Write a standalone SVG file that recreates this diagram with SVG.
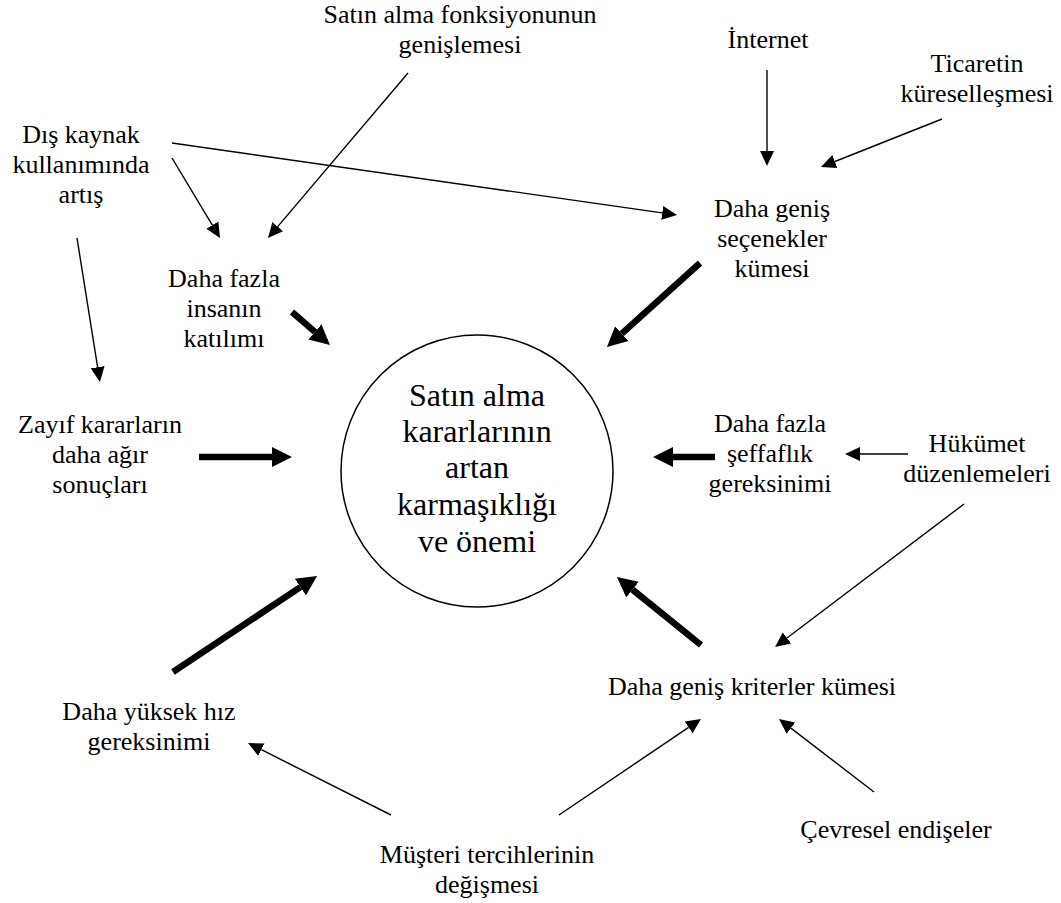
<svg xmlns="http://www.w3.org/2000/svg" width="1061" height="903" viewBox="0 0 1061 903" font-family="Liberation Serif, Tinos, Times New Roman, DejaVu Serif, serif">
<style>
text{font-family:'Liberation Serif',Tinos,'Times New Roman','DejaVu Serif',serif;fill:#000;text-anchor:middle}
.lbl{font-size:26px}
.big{font-size:32px}
.thin{stroke:#000;stroke-width:1.4;fill:none}
.thick{stroke:#000;stroke-width:6.5;fill:none}
</style>
<defs>
<marker id="ah" markerUnits="userSpaceOnUse" markerWidth="16" markerHeight="16" refX="0" refY="7" orient="auto" viewBox="0 0 16 14">
<path d="M0,0 L15,7 L0,14 z" fill="#000"/>
</marker>
<marker id="ahb" markerUnits="userSpaceOnUse" markerWidth="21" markerHeight="21" refX="0" refY="10" orient="auto" viewBox="0 0 21 20">
<path d="M0,0 L20,10 L0,20 z" fill="#000"/>
</marker>
</defs>
<rect width="1061" height="903" fill="#fff"/>
<g id="connectors">
<line class="thin" x1="172" y1="143" x2="662.2" y2="212.9" marker-end="url(#ah)"/>
<line class="thin" x1="172" y1="158" x2="212.3" y2="225.1" marker-end="url(#ah)"/>
<line class="thin" x1="408" y1="73" x2="277.7" y2="226.6" marker-end="url(#ah)"/>
<line class="thin" x1="77" y1="238" x2="97.6" y2="367.2" marker-end="url(#ah)"/>
<line class="thin" x1="767" y1="70" x2="767" y2="151" marker-end="url(#ah)"/>
<line class="thin" x1="942" y1="119" x2="834.9" y2="161.5" marker-end="url(#ah)"/>
<line class="thin" x1="908" y1="454" x2="860" y2="454" marker-end="url(#ah)"/>
<line class="thin" x1="964" y1="504" x2="787" y2="638" marker-end="url(#ah)"/>
<line class="thin" x1="391" y1="815" x2="261.4" y2="749.7" marker-end="url(#ah)"/>
<line class="thin" x1="559" y1="815" x2="688.6" y2="727.4" marker-end="url(#ah)"/>
<line class="thin" x1="874" y1="792" x2="790.9" y2="728.1" marker-end="url(#ah)"/>
<line class="thick" x1="292" y1="312" x2="314.9" y2="331.9" marker-end="url(#ahb)"/>
<line class="thick" x1="199" y1="457" x2="272" y2="457" marker-end="url(#ahb)"/>
<line class="thick" x1="173" y1="672" x2="300.4" y2="587.1" marker-end="url(#ahb)"/>
<line class="thick" x1="700" y1="263" x2="621.8" y2="333.6" marker-end="url(#ahb)"/>
<line class="thick" x1="715" y1="457" x2="673" y2="457" marker-end="url(#ahb)"/>
<line class="thick" x1="701" y1="645" x2="632.5" y2="589.6" marker-end="url(#ahb)"/>
</g>
<g id="center">
<circle cx="477" cy="471" r="136" fill="none" stroke="#000" stroke-width="1.5"/>
<text class="big" x="477" y="406">Satın alma</text>
<text class="big" x="477" y="442">kararlarının</text>
<text class="big" x="477" y="478">artan</text>
<text class="big" x="477" y="515">karmaşıklığı</text>
<text class="big" x="477" y="552">ve önemi</text>
</g>
<g id="satin-alma-fonksiyonu"><text class="lbl" x="460" y="23">Satın alma fonksiyonunun</text><text class="lbl" x="460" y="53">genişlemesi</text></g>
<g id="dis-kaynak"><text class="lbl" x="81" y="143">Dış kaynak</text><text class="lbl" x="81" y="173">kullanımında</text><text class="lbl" x="81" y="203">artış</text></g>
<g id="internet"><text class="lbl" x="768" y="48">İnternet</text></g>
<g id="ticaret"><text class="lbl" x="977" y="72">Ticaretin</text><text class="lbl" x="977" y="102">küreselleşmesi</text></g>
<g id="daha-fazla-insan"><text class="lbl" x="224" y="287">Daha fazla</text><text class="lbl" x="224" y="317">insanın</text><text class="lbl" x="224" y="347">katılımı</text></g>
<g id="secenekler"><text class="lbl" x="772" y="217">Daha geniş</text><text class="lbl" x="772" y="247">seçenekler</text><text class="lbl" x="772" y="277">kümesi</text></g>
<g id="zayif-kararlar"><text class="lbl" x="100" y="433">Zayıf kararların</text><text class="lbl" x="100" y="463">daha ağır</text><text class="lbl" x="100" y="493">sonuçları</text></g>
<g id="seffaflik"><text class="lbl" x="770" y="432">Daha fazla</text><text class="lbl" x="770" y="462">şeffaflık</text><text class="lbl" x="770" y="492">gereksinimi</text></g>
<g id="hukumet"><text class="lbl" x="977" y="452">Hükümet</text><text class="lbl" x="977" y="482">düzenlemeleri</text></g>
<g id="kriterler"><text class="lbl" x="752" y="695">Daha geniş kriterler kümesi</text></g>
<g id="hiz"><text class="lbl" x="149" y="720">Daha yüksek hız</text><text class="lbl" x="149" y="750">gereksinimi</text></g>
<g id="cevresel"><text class="lbl" x="896" y="838">Çevresel endişeler</text></g>
<g id="musteri"><text class="lbl" x="487" y="863">Müşteri tercihlerinin</text><text class="lbl" x="487" y="893">değişmesi</text></g>
</svg>
